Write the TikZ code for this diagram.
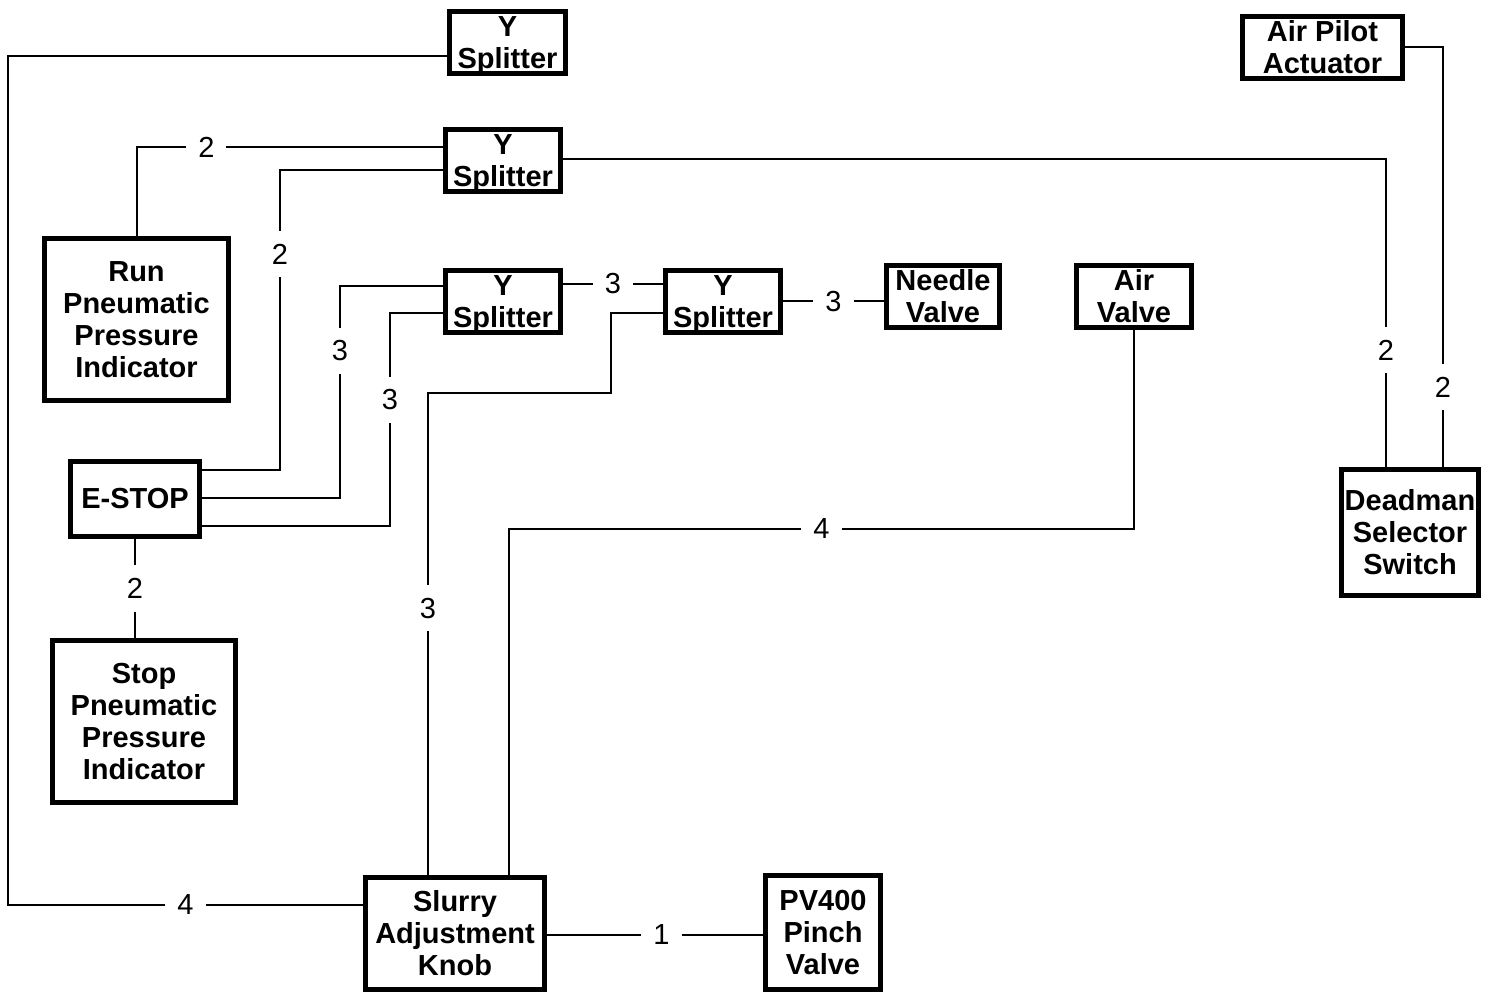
\documentclass[tikz,border=0pt]{standalone}
\usepackage{fontspec}
\setmainfont{Liberation Sans}
\usepackage{tikz}
\usetikzlibrary{shapes,arrows}
\tikzset{
  part/.style={
    rectangle,
    draw=black, line width=2.4pt,
    inner sep=0pt,
    align=center,
    font=\fontsize{14.5}{16}\selectfont\bfseries
  },
  ysplit/.style={
    part,
    minimum width=57.5pt, minimum height=31pt,
    text depth=0pt
  },
  lbl/.style={
    fill=white,
    inner xsep=6pt, inner ysep=6.5pt,
    font=\fontsize{14.5}{16}\selectfont
  },
}

\begin{document}
\begin{tikzpicture}[x=0.5pt,y=-0.5pt,line width=1pt]
      \useasboundingbox (0,0) rectangle (1493,994);

      \node[ysplit, minimum width=58pt] (ysa) at (507.5,42.5) {Y\\Splitter};
      \node[part, minimum width=80pt, minimum height=31pt] (pilot) at (1322.5,47.5) {Air Pilot\\Actuator};
      \node[ysplit] (ysb) at (503,160.5) {Y\\Splitter};
      \node[part, minimum width=92pt, minimum height=81pt] (run) at (136.5,319.5) {Run\\Pneumatic\\Pressure\\Indicator};
      \node[ysplit] (ysc) at (503,301.5) {Y\\Splitter};
      \node[ysplit] (ysd) at (723,301.5) {Y\\Splitter};
      \node[part, minimum width=56.5pt, minimum height=31pt] (needle) at (943,296.5) {Needle\\Valve};
      \node[part, minimum width=57.5pt, minimum height=31pt] (airv) at (1134,296.5) {Air\\Valve};
      \node[part, minimum width=64.5pt, minimum height=37.5pt] (estop) at (135,499) {E-STOP};
      \node[part, minimum width=68.5pt, minimum height=63pt] (deadman) at (1410,532.5) {Deadman\\Selector\\Switch};
      \node[part, minimum width=91.5pt, minimum height=81pt] (stop) at (144,721.5) {Stop\\Pneumatic\\Pressure\\Indicator};
      \node[part, minimum width=89.5pt, minimum height=56pt] (knob) at (455,933.5) {Slurry\\Adjustment\\Knob};
      \node[part, minimum width=57.5pt, minimum height=57pt] (pinch) at (823,932.5) {PV400\\Pinch\\Valve};

      % hoses
      \draw (ysa.west |- 0,56) -- (8,56) |- node[lbl,pos=0.75]{4} (knob.west |- 0,905);
      \draw (ysb.west |- 0,147) -| node[lbl,pos=0.386]{2} (run.north);
      \draw (ysb.west |- 0,170) -| node[lbl,pos=0.64]{2} (280,470) -- (estop.east |- 0,470);
      \draw (ysb.east |- 0,159) -| node[lbl,pos=0.81]{2} (deadman.north -| 1386,0);
      \draw (pilot.east) -| node[lbl,pos=0.905]{2} (deadman.north -| 1443,0);
      \draw (ysc.west |- 0,286) -| node[lbl,pos=0.653]{3} (340,498) -- (estop.east |- 0,498);
      \draw (ysc.west |- 0,313) -| node[lbl,pos=0.704]{3} (390,526) -- (estop.east |- 0,526);
      \draw (ysc.east |- 0,284) -- node[lbl]{3} (ysd.west |- 0,284);
      \draw (ysd.west |- 0,313) -| (611,393) -| node[lbl,pos=0.723]{3} (knob.north -| 428,0);
      \draw (ysd.east) -- node[lbl]{3} (needle.west |- ysd.east);
      \draw (airv.south) |- node[lbl,pos=0.75]{4} (509,529) -- (knob.north -| 509,0);
      \draw (estop.south) -- node[lbl]{2} (stop.north -| estop.south);
      \draw (knob.east |- 0,935) -- node[lbl,pos=0.53]{1} (pinch.west |- 0,935);
\end{tikzpicture}
\end{document}
